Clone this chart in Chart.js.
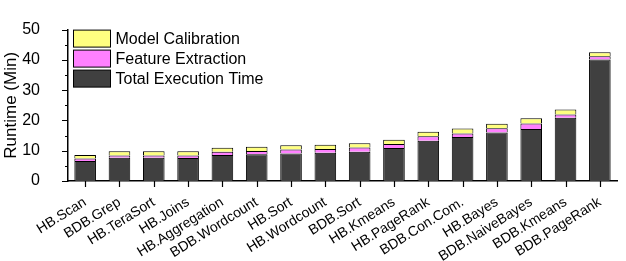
<!DOCTYPE html>
<html>
<head>
<meta charset="utf-8">
<script src="https://cdn.jsdelivr.net/npm/chart.js@4.4.1/dist/chart.umd.min.js"></script>
<style>
  html, body { margin: 0; padding: 0; background: #fff; }
  #wrap { width: 626px; height: 261px; }
</style>
</head>
<body>
<div id="wrap"><canvas id="runtimeChart" width="626" height="261"></canvas></div>
<script>
// workloads on the x axis
var categories = ['HB.Scan', 'BDB.Grep', 'HB.TeraSort', 'HB.Joins', 'HB.Aggregation',
  'BDB.Wordcount', 'HB.Sort', 'HB.Wordcount', 'BDB.Sort', 'HB.Kmeans', 'HB.PageRank',
  'BDB.Con.Com.', 'HB.Bayes', 'BDB.NaiveBayes', 'BDB.Kmeans', 'BDB.PageRank'];

// stacked parts, minutes
var totalExecution   = [6.6, 7.7, 7.7, 7.6, 8.6, 8.8, 9.1, 9.3, 9.7, 10.9, 13.3, 14.5, 16.0, 17.2, 20.9, 40.1];
var featureExtract   = [0.8, 0.7, 0.7, 0.8, 1.1, 1.1, 1.3, 1.3, 1.4, 1.3, 1.5, 1.2, 1.4, 1.8, 1.1, 1.1];
var modelCalibration = [1.2, 1.4, 1.4, 1.4, 1.3, 1.4, 1.4, 1.4, 1.4, 1.4, 1.5, 1.6, 1.5, 1.7, 1.6, 1.3];

var yTicks = [0, 10, 20, 30, 40, 50];

var FONT = 'Liberation Sans, Arial, sans-serif';

// tick marks drawn like the original plot (outside, major + minor on y)
var tickMarks = {
  id: 'tickMarks',
  afterDraw: function(chart) {
    var c = chart.ctx, x = chart.scales.x, y = chart.scales.y;
    c.save();
    c.strokeStyle = '#000';
    c.lineWidth = 1.2;
    c.beginPath();
    for (var v = 0; v <= 50; v += 5) {
      var py = Math.round(y.getPixelForValue(v)) + 0.5;
      var len = (v % 10 === 0) ? 6 : 3;
      c.moveTo(x.left - len, py);
      c.lineTo(x.left, py);
    }
    for (var i = 0; i < categories.length; i++) {
      var px = Math.round(x.getPixelForValue(i)) + 0.5;
      c.moveTo(px, y.bottom);
      c.lineTo(px, y.bottom + 6);
    }
    c.stroke();
    c.restore();
  }
};

// legend in the upper left of the plot, top entry = last dataset
var boxLegend = {
  id: 'boxLegend',
  afterDraw: function(chart) {
    var c = chart.ctx, area = chart.chartArea;
    var sets = chart.data.datasets.slice().reverse();
    c.save();
    c.font = '16px ' + FONT;
    c.textBaseline = 'middle';
    for (var i = 0; i < sets.length; i++) {
      var bx = area.left + 5.5, by = area.top + 0.5 + i * 20;
      c.fillStyle = sets[i].backgroundColor;
      c.fillRect(bx, by, 37, 17);
      c.strokeStyle = '#000';
      c.lineWidth = 1;
      c.strokeRect(bx, by, 37, 17);
      c.fillStyle = '#000';
      c.fillText(sets[i].label, bx + 42, by + 9);
    }
    c.restore();
  }
};

var data = {
  labels: categories,
  datasets: [
    { label: 'Total Execution Time', data: totalExecution, backgroundColor: '#404040' },
    { label: 'Feature Extraction', data: featureExtract, backgroundColor: '#ff80ff' },
    { label: 'Model Calibration', data: modelCalibration, backgroundColor: '#ffff80' }
  ]
};
data.datasets.forEach(function(d) {
  d.borderColor = '#000';
  d.borderWidth = 1;
  d.barPercentage = 0.63;
  d.categoryPercentage = 1;
});

var options = {
  responsive: false,
  animation: false,
  layout: { padding: { top: 15, right: 9, left: 0, bottom: 0 } },
  plugins: { legend: { display: false }, tooltip: { enabled: false } },
  scales: {
    x: {
      stacked: true,
      grid: { display: false },
      border: { display: true, color: '#000', width: 1.5 },
      ticks: {
        color: '#000', font: { family: FONT, size: 14 },
        maxRotation: 32, minRotation: 32, padding: 5, autoSkip: false
      },
      afterFit: function(s) { s.height = 80; }
    },
    y: {
      stacked: true,
      min: 0, max: 50,
      afterBuildTicks: function(s) { s.ticks = yTicks.map(function(v) { return { value: v }; }); },
      grid: { display: false },
      border: { display: true, color: '#000', width: 1.5 },
      ticks: { color: '#000', font: { family: FONT, size: 16 }, padding: 20 },
      title: { display: true, text: 'Runtime (Min)', color: '#000', font: { family: FONT, size: 17 }, padding: { top: 1, bottom: 0 } },
      afterFit: function(s) { s.width = 68; }
    }
  }
};

var ctx = document.getElementById('runtimeChart').getContext('2d');
var runtimeChart = new Chart(ctx, {
  type: 'bar',
  data: data,
  options: options,
  plugins: [tickMarks, boxLegend]
});
</script>
</body>
</html>
